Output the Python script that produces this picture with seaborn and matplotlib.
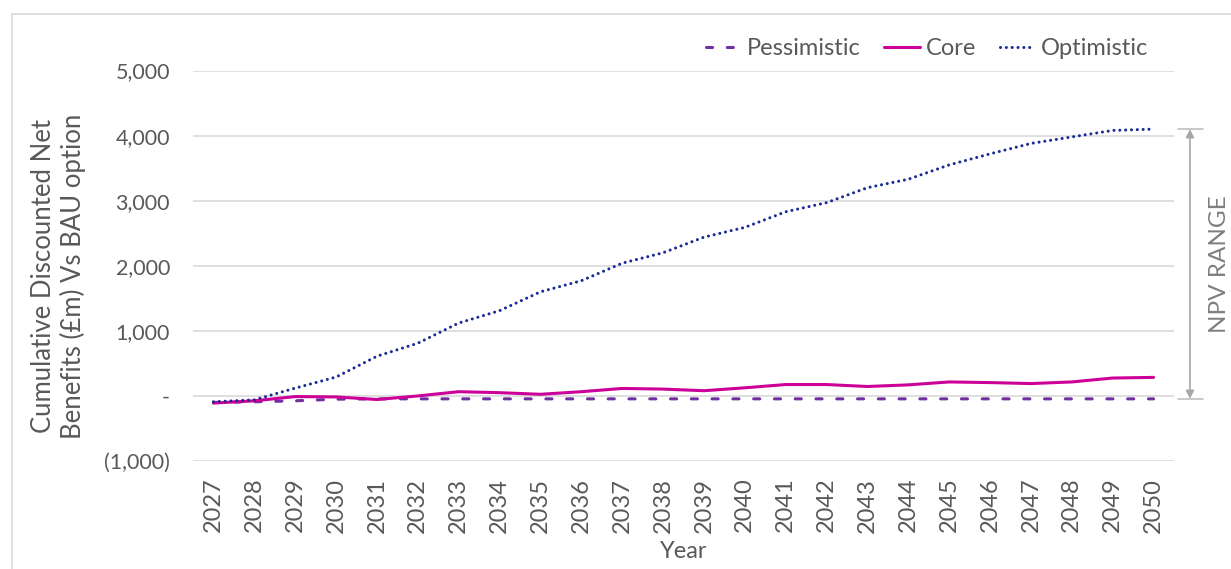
import numpy as np
import pandas as pd
import matplotlib
matplotlib.use("Agg")
import matplotlib.pyplot as plt
from matplotlib.lines import Line2D
from matplotlib.patches import Rectangle
import matplotlib.transforms as mtransforms
import matplotlib.ticker as mticker
import seaborn as sns

# Cumulative discounted net benefits vs BAU option (£m)
years = list(range(2027, 2051))
pessimistic = [-100, -90, -75, -50, -45, -45, -45, -45, -45, -45, -45, -45,
               -45, -45, -45, -45, -45, -45, -45, -45, -45, -45, -45, -45]
core = [-110, -75, -10, -15, -55, 0, 65, 50, 25, 65, 115, 105,
        80, 125, 175, 175, 145, 170, 215, 205, 190, 215, 275, 285]
optimistic = [-90, -60, 120, 290, 610, 810, 1120, 1310, 1600, 1770, 2040, 2200,
              2440, 2590, 2830, 2970, 3200, 3330, 3550, 3720, 3880, 3980, 4080, 4100]
scenarios = ["Pessimistic", "Core", "Optimistic"]
y_ticks = [-1000, 0, 1000, 2000, 3000, 4000, 5000]

df = pd.DataFrame({
    "Year": years * 3,
    "Value": pessimistic + core + optimistic,
    "Scenario": ["Pessimistic"] * len(years) + ["Core"] * len(years) + ["Optimistic"] * len(years),
})

sns.set_theme(style="white")
plt.rcParams["font.family"] = ["Lato", "DejaVu Sans"]

TEXT = "#595959"
GRID = "#D9D9D9"
palette = {"Pessimistic": "#7030A0", "Core": "#CC0099", "Optimistic": "#1A2A96"}
dashes = {"Pessimistic": (2.0, 4.8), "Core": "", "Optimistic": (0.01, 1.9)}
LW = 2.2

fig = plt.figure(figsize=(12.31, 5.69), dpi=100)
ax = fig.add_axes([0.1568, 0.1898, 0.7969, 0.6862])

sns.lineplot(data=df, x="Year", y="Value", hue="Scenario", style="Scenario",
             hue_order=scenarios, style_order=scenarios, palette=palette,
             dashes=dashes, linewidth=LW, legend=False, ax=ax)
for line in ax.lines:
    line.set_dash_capstyle("round")
    line.set_solid_capstyle("round")

ax.set_xlim(years[0] - 0.5, years[-1] + 0.5)
ax.set_ylim(y_ticks[0], y_ticks[-1])
ax.set_yticks(y_ticks)
ax.set_xticks(years)
ax.set_xticklabels([str(y) for y in years], rotation=90)


def fmt(v, _pos):
    if v == 0:
        return "-"
    if v < 0:
        return f"({abs(v):,.0f})"
    return f"{v:,.0f}"


ax.yaxis.set_major_formatter(mticker.FuncFormatter(fmt))
ax.grid(axis="y", color=GRID, linewidth=1.2)
ax.grid(axis="x", visible=False)
for s in ax.spines.values():
    s.set_visible(False)
ax.tick_params(axis="both", length=0, colors=TEXT)
ax.tick_params(axis="y", pad=16.5, labelsize=15.5)
ax.tick_params(axis="x", pad=12, labelsize=17)

ax.set_xlabel("Year", fontsize=17, color=TEXT, labelpad=6)
ax.set_ylabel("Cumulative Discounted Net\nBenefits (£m) Vs BAU option",
              fontsize=18.5, color=TEXT, labelpad=13, linespacing=1.2)
ax.yaxis.label.set_y(0.474)

# Legend
handles = []
for s in scenarios:
    h = Line2D([0], [0], color=palette[s], linewidth=LW, linestyle="-")
    if dashes[s]:
        h.set_dashes(dashes[s])
    h.set_dash_capstyle("round")
    handles.append(h)
leg = fig.legend(handles, scenarios, loc="center right",
                 bbox_to_anchor=(0.950, 0.914), ncol=3, frameon=False,
                 fontsize=17, handlelength=1.5, handletextpad=0.25,
                 columnspacing=1.0)
for t in leg.get_texts():
    t.set_color(TEXT)

# NPV range bracket spanning the 2050 values
trans = mtransforms.blended_transform_factory(ax.transAxes, ax.transData)
top_v = optimistic[-1]
bot_v = pessimistic[-1]
ax.annotate("", xy=(1.0163, top_v), xytext=(1.0163, bot_v), xycoords=trans,
            textcoords=trans, annotation_clip=False,
            arrowprops=dict(arrowstyle="<|-|>", color="#A6A6A6", lw=1.2,
                            mutation_scale=12, shrinkA=0, shrinkB=0))
for v in (top_v, bot_v):
    ax.plot([1.004, 1.030], [v, v], transform=trans, color="#BFBFBF",
            lw=1.2, clip_on=False)
ax.text(1.0465, (top_v + bot_v) / 2, "NPV RANGE", transform=trans,
        rotation=90, ha="center", va="center", fontsize=17.5, color="#7F7F7F")

# Chart frame
fig.patches.append(Rectangle((12 / 1231, -0.05), 1.2, 1 - 14 / 569 + 0.05,
                             transform=fig.transFigure, fill=False,
                             edgecolor=GRID, linewidth=1.2))

fig.savefig("out.png", dpi=100)
